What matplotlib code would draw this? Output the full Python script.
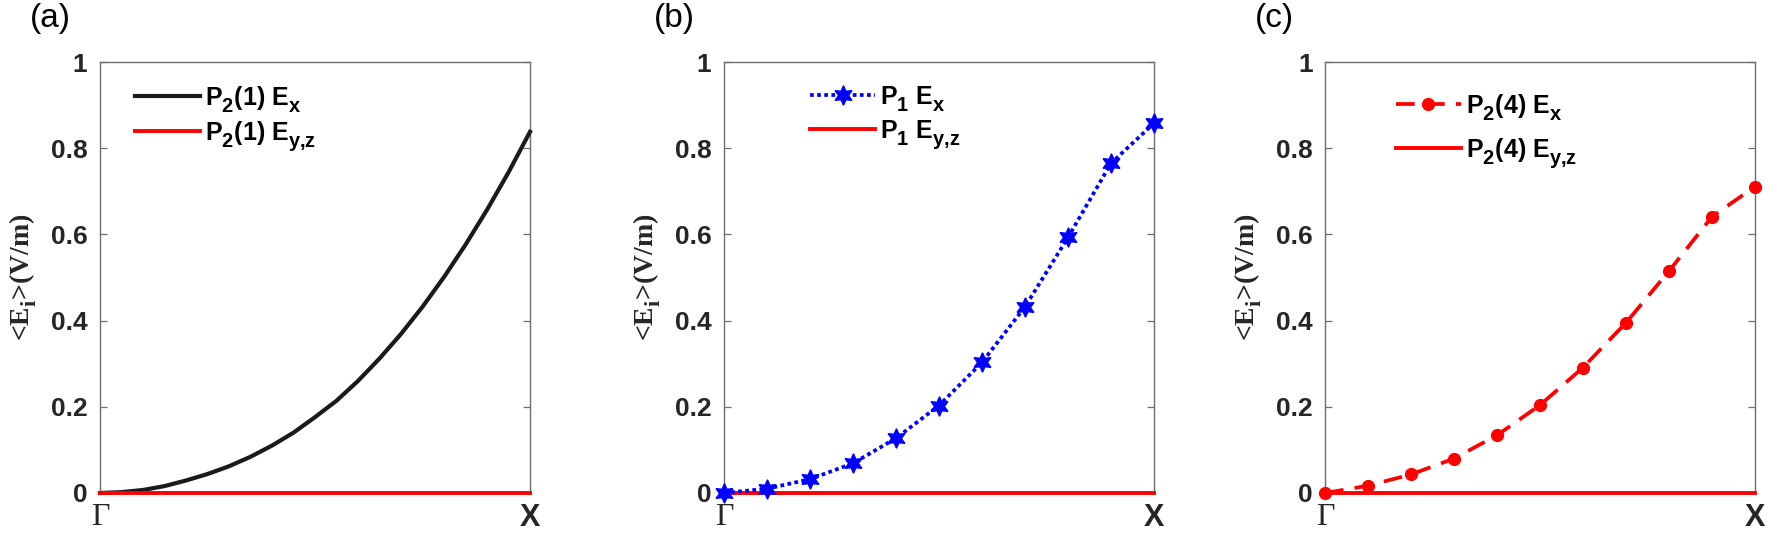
import matplotlib
matplotlib.use("Agg")
import matplotlib.pyplot as plt
import numpy as np

try:
    import matplotlib._mathtext as _mt
    _mt.SHRINK_FACTOR = 0.8
    _mt.FontConstantsBase.sub1 = 0.5
    _mt.FontConstantsBase.sub2 = 0.65
except Exception:
    pass

# ---------------- data ----------------
xa = [0.0, 0.05, 0.1, 0.15, 0.2, 0.25, 0.3, 0.35, 0.4, 0.45, 0.5,
      0.55, 0.6, 0.65, 0.7, 0.75, 0.8, 0.85, 0.9, 0.95, 1.0]
p2_1_ex = [0.0, 0.002, 0.007, 0.016, 0.029, 0.044, 0.062, 0.084, 0.110, 0.140, 0.176,
           0.214, 0.260, 0.312, 0.369, 0.432, 0.501, 0.576, 0.657, 0.744, 0.838]
p2_1_eyz = [0.0] * len(xa)

xm = [0.0, 0.1, 0.2, 0.3, 0.4, 0.5, 0.6, 0.7, 0.8, 0.9, 1.0]
p1_ex = [0.0, 0.010, 0.032, 0.069, 0.127, 0.203, 0.303, 0.432, 0.593, 0.765, 0.858]
p1_eyz = [0.0] * len(xm)
p2_4_ex = [0.0, 0.017, 0.043, 0.080, 0.134, 0.204, 0.291, 0.395, 0.515, 0.641, 0.711]
p2_4_eyz = [0.0] * len(xm)

yticks = [0, 0.2, 0.4, 0.6, 0.8, 1]
ytick_labels = ["0", "0.2", "0.4", "0.6", "0.8", "1"]
xtick_labels = ["\u0393", "X"]
panel_labels = ["(a)", "(b)", "(c)"]
legend_a = [r"P$_{2}$(1) E$_{x}$", r"P$_{2}$(1) E$_{y{,}z}$"]
legend_b = [r"P$_{1}$ E$_{x}$", r"P$_{1}$ E$_{y{,}z}$"]
legend_c = [r"P$_{2}$(4) E$_{x}$", r"P$_{2}$(4) E$_{y{,}z}$"]
ylabel_txt = r"<E$_{\mathtt{i}}$>(V/m)"

# ---------------- style ----------------
plt.rcParams["mathtext.fontset"] = "custom"
plt.rcParams["mathtext.default"] = "rm"
plt.rcParams["mathtext.rm"] = "Liberation Sans:bold"
plt.rcParams["mathtext.tt"] = "Liberation Serif:bold"
plt.rcParams["font.family"] = ["Liberation Sans", "DejaVu Sans"]

W, H = 1766, 535
fig = plt.figure(figsize=(W / 100, H / 100), dpi=100)

lefts = [100, 724, 1325]
aw, ah = 430, 431
bottom_px = 493
spine_c = "#6e6e6e"
text_c = "#262626"

legend_anchor = [(0.081, 0.95), (0.20, 0.95), (0.165, 0.93)]
legend_spacing = [0.2, 0.2, 0.55]

axes = []
for i, l in enumerate(lefts):
    ax = fig.add_axes([l / W, (H - bottom_px) / H, aw / W, ah / H])
    axes.append(ax)

def style(ax, i):
    ax.set_xlim(0, 1)
    ax.set_ylim(0, 1)
    ax.set_yticks(yticks)
    ax.set_yticklabels(ytick_labels, fontsize=19, fontweight="bold",
                       color=text_c, family="Liberation Sans")
    ax.set_xticks([0, 1])
    ax.set_xticklabels(xtick_labels)
    tl = ax.get_xticklabels()
    tl[0].set_fontfamily("Liberation Serif")
    tl[0].set_fontsize(23)
    tl[0].set_color(text_c)
    tl[1].set_fontfamily("Liberation Sans")
    tl[1].set_fontweight("bold")
    tl[1].set_fontsize(22)
    tl[1].set_color(text_c)
    ax.tick_params(axis="y", direction="in", length=5, width=0.9, color=spine_c,
                   pad=9, right=True)
    ax.tick_params(axis="x", direction="in", length=0, pad=7)
    for s in ax.spines.values():
        s.set_color(spine_c)
        s.set_linewidth(1.0)
        s.set_zorder(1)
    ax.set_ylabel(ylabel_txt, fontsize=20, fontweight="bold",
                  family="Liberation Serif", color=text_c)
    ax.yaxis.set_label_coords(-0.142, 0.5)
    fig.text((lefts[i] - 70) / W, 1 - 3 / H, panel_labels[i], fontsize=24,
             family="Liberation Sans", va="top", ha="left", color="black")

# (a)
ax = axes[0]
ax.plot(xa, p2_1_ex, color="#1a1a1a", lw=3.0, label=legend_a[0], clip_on=False, zorder=3)
ax.plot(xa, p2_1_eyz, color="red", lw=2.8, label=legend_a[1], clip_on=False, zorder=4)
# (b)
ax = axes[1]
ax.plot(xm, p1_ex, color="blue", lw=2.7, ls=(0, (1, 0.9)), marker=(6, 1, 0),
        markersize=14, label=legend_b[0], clip_on=False, zorder=4)
ax.plot(xm, p1_eyz, color="red", lw=2.8, label=legend_b[1], clip_on=False, zorder=3)
# (c)
ax = axes[2]
ax.plot(xm, p2_4_ex, color="red", lw=2.7, ls=(0, (5, 3)), marker="o",
        markersize=8.5, label=legend_c[0], clip_on=False, zorder=4)
ax.plot(xm, p2_4_eyz, color="red", lw=2.8, label=legend_c[1], clip_on=False, zorder=3)

for i, ax in enumerate(axes):
    style(ax, i)
    leg = ax.legend(loc="upper left", bbox_to_anchor=legend_anchor[i],
                    frameon=False, handlelength=2.6,
                    handletextpad=0.2, borderpad=0, borderaxespad=0,
                    labelspacing=legend_spacing[i],
                    prop={"family": "Liberation Sans", "weight": "bold", "size": 18})
    for t in leg.get_texts():
        t.set_color("black")

fig.savefig("out.png", dpi=100)
